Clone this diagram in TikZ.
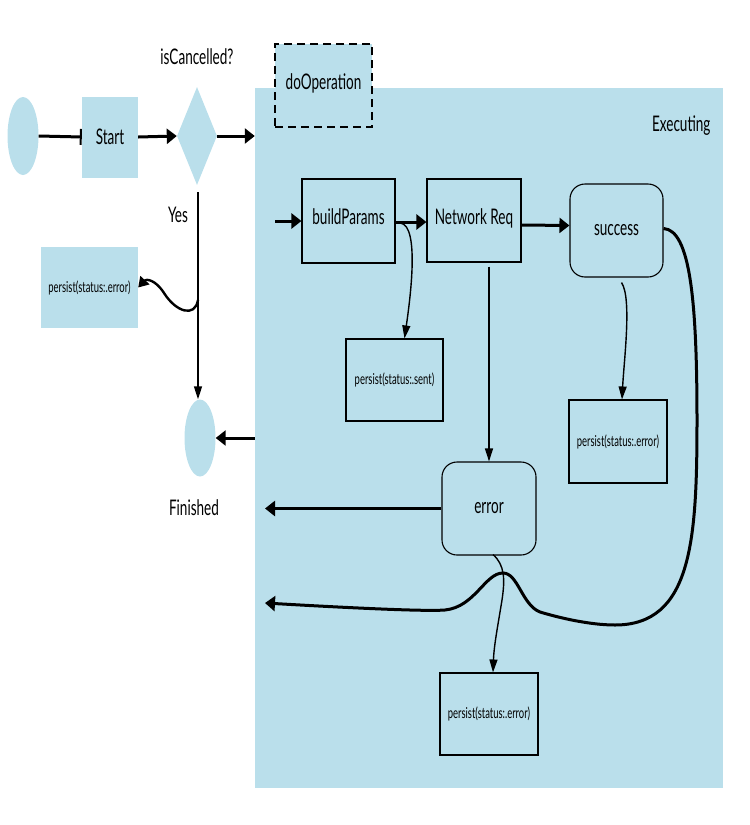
\documentclass[tikz,border=0pt]{standalone}
\usepackage{fontspec}
\setmainfont{Lato}[FakeStretch=0.63]
\usetikzlibrary{arrows.meta,shapes.geometric,calc}
\definecolor{lb}{RGB}{186,223,235}
\tikzset{
  big/.style={font=\fontsize{21.5}{23}\selectfont},
  small/.style={font=\fontsize{15}{17}\selectfont},
  plainfill/.style={fill=lb, draw=none, inner sep=0pt},
  outbox/.style={fill=lb, draw=black, line width=1.1pt, inner sep=0pt},
  roundbox/.style={outbox, rounded corners=15pt},
  thickarrow/.style={line width=3pt, -{Triangle[length=10pt,width=15pt]}},
  thinarrow/.style={line width=1.4pt, -{Triangle[length=13pt,width=8pt]}},
  toptext/.style={text depth=8pt},
}
\begin{document}
\begin{tikzpicture}[x=1pt,y=-1pt]
\useasboundingbox (0,0) rectangle (750,825);
% region
\node[plainfill, minimum width=468pt, minimum height=700pt] (exec) at (489,438) {};
\node[big, anchor=east] (exectxt) at (714,126) {Executing};
\node[plainfill, draw=black, line width=1.2pt, dash pattern=on 8pt off 5pt, minimum width=97pt, minimum height=83pt, big, toptext] (doop) at (323.5,85.5) {doOperation};
% left column
\node[plainfill, ellipse, minimum width=31pt, minimum height=78pt] (st) at (23,136) {};
\node[plainfill, minimum width=56pt, minimum height=81pt, big] (start) at (110,137) {Start};
\node[plainfill, diamond, minimum width=40pt, minimum height=98pt, aspect=0.4] (dia) at (197,136) {};
\node[big] (iscan) at (197,57) {isCancelled?};
\node[big] (yes) at (178,215) {Yes};
\node[plainfill, minimum width=97pt, minimum height=81pt, small] (pl) at (89.5,287.5) {persist(status:.error)};
\node[plainfill, ellipse, minimum width=31pt, minimum height=77pt] (fin) at (200,438) {};
\node[big] (fintxt) at (194,508) {Finished};
% inner boxes
\node[outbox, minimum width=93pt, minimum height=84pt, big, toptext] (bp) at (348.5,221) {buildParams};
\node[outbox, minimum width=94pt, minimum height=83pt, big, toptext] (net) at (474,220.5) {Network Req};
\node[roundbox, minimum width=93pt, minimum height=93pt, big] (suc) at (616.5,230.5) {success};
\node[outbox, minimum width=97pt, minimum height=82pt, small] (ps) at (394.5,380) {persist(status:.sent)};
\node[outbox, minimum width=98pt, minimum height=83pt, small] (pr) at (618,441.5) {persist(status:.error)};
\node[roundbox, minimum width=94pt, minimum height=93pt, big] (err) at (489,508.5) {error};
\node[outbox, minimum width=98pt, minimum height=82pt, small] (pb) at (489,714) {persist(status:.error)};
% coordinates
\coordinate (inbp) at (275,221);
\coordinate (wstart) at (198,300);
\coordinate (errout) at (265,508.5);
\coordinate (sucout) at (265,603);
% connectors
\draw[line width=3pt, -{Bar[width=16pt,line width=2pt]}] (st.east) -- (start.west);
\draw[thickarrow] (start.east) -- (dia.west);
\draw[thickarrow] (dia.east) -- (exec.west |- dia.east);
\draw[thinarrow] ($(dia.south)+(1,7)$) -- ($(dia.south |- fin.north)+(1,0)$);
\draw[line width=2.4pt, -{Triangle[length=10pt,width=12pt]}] (wstart) .. controls (195,318) and (176,312) .. (164,293) .. controls (155,279) and (146,279) .. (pl.east);
\draw[thickarrow] (exec.west) -- (fin.east);
\draw[thickarrow] (inbp) -- (bp.west);
\draw[thickarrow] ($(bp.east)+(0,1)$) -- ($(net.west)+(0,1.5)$);
\draw[thickarrow] ($(net.east)+(0,4.5)$) -- ($(suc.west)+(0,-5)$);
\draw[thinarrow] ($(bp.east)+(5,2)$) .. controls (420,226) and (410,300) .. ($(ps.north)+(10,0)$);
\draw[thinarrow] (err.north |- {$(net.south)+(0,4)$}) -- (err.north);
\draw[thinarrow] ($(suc.south)+(5,5)$) .. controls (632,298) and (624,360) .. ($(pr.north)+(4,0)$);
\draw[thickarrow] (err.west) -- (errout);
\draw[thinarrow] ($(err.south)+(4,-1)$) .. controls (505,565) and (505,580) .. (502,600) .. controls (498,625) and (494,645) .. ($(pb.north)+(4,0)$);
\draw[thickarrow] ($(suc.east)+(0,-2)$) .. controls (690,230) and (697,300) .. (697,420) .. controls (697,540) and (692,625) .. (615,625) .. controls (590,625) and (560,618) .. (540,612) .. controls (522,605) and (518,573) .. (503,573) .. controls (485,573) and (475,607) .. (445,610) .. controls (420,612) and (300,605) .. (sucout);
\end{tikzpicture}
\end{document}
